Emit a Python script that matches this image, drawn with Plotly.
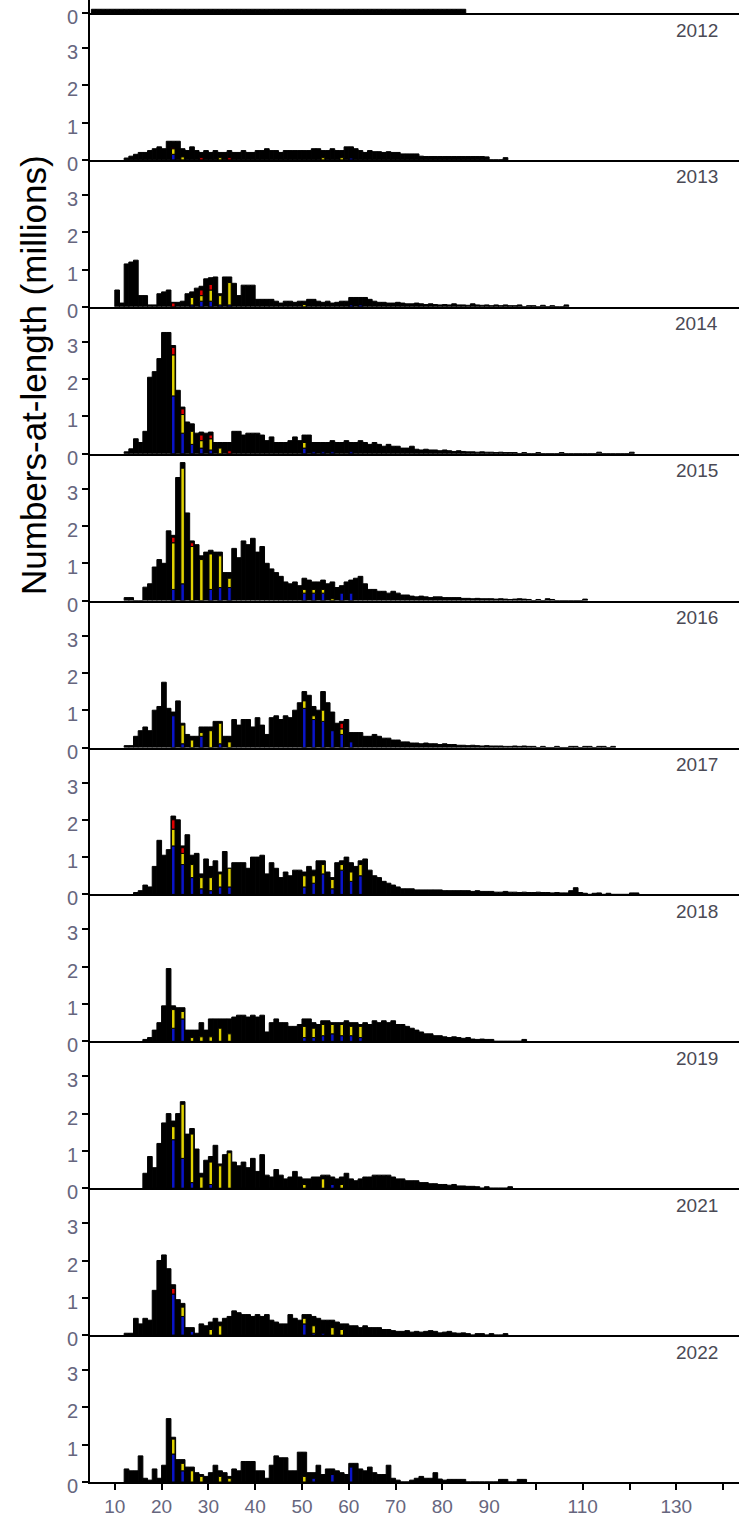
import plotly.graph_objects as go
from plotly.subplots import make_subplots

# numbers-at-length (millions) in 1 cm bins; each list starts at *_start cm
years = ['2012', '2013', '2014', '2015', '2016', '2017', '2018', '2019', '2021', '2022']

# bottom of the panel above 2012 (cut off by the crop)
prev_start = 5
prev_tot = [0.1, 0.1, 0.1, 0.1, 0.1, 0.1, 0.1, 0.1, 0.1, 0.1, 0.1, 0.1, 0.1, 0.1, 0.1, 0.1,
            0.1, 0.1, 0.1, 0.1, 0.1, 0.1, 0.1, 0.1, 0.1, 0.1, 0.1, 0.1, 0.1, 0.1, 0.1, 0.1,
            0.1, 0.1, 0.1, 0.1, 0.1, 0.1, 0.1, 0.1, 0.1, 0.1, 0.1, 0.1, 0.1, 0.1, 0.1, 0.1,
            0.1, 0.1, 0.1, 0.1, 0.1, 0.1, 0.1, 0.1, 0.1, 0.1, 0.1, 0.1, 0.1, 0.1, 0.1, 0.1,
            0.1, 0.1, 0.1, 0.1, 0.1, 0.1, 0.1, 0.1, 0.1, 0.1, 0.1, 0.1, 0.1, 0.1, 0.1, 0.1]

tot_2012_start = 12
tot_2012 = [0.05, 0.1, 0.15, 0.2, 0.2, 0.25, 0.3, 0.35, 0.3, 0.5, 0.5, 0.5, 0.3, 0.25, 0.35, 0.25,
            0.2, 0.25, 0.2, 0.25, 0.2, 0.2, 0.25, 0.2, 0.2, 0.25, 0.2, 0.2, 0.25, 0.25, 0.3, 0.25,
            0.25, 0.2, 0.25, 0.25, 0.25, 0.25, 0.25, 0.25, 0.3, 0.3, 0.25, 0.25, 0.3, 0.25, 0.25,
            0.35, 0.35, 0.3, 0.25, 0.2, 0.25, 0.22, 0.22, 0.2, 0.22, 0.2, 0.2, 0.16, 0.16, 0.16,
            0.16, 0.1, 0.09, 0.09, 0.09, 0.09, 0.09, 0.09, 0.09, 0.09, 0.09, 0.09, 0.09, 0.09,
            0.09, 0.08, 0, 0, 0, 0.06]

tot_2013_start = 10
tot_2013 = [0.45, 0.1, 1.15, 1.2, 1.25, 0.3, 0.3, 0.05, 0.05, 0.35, 0.4, 0.45, 0.12, 0.12, 0.15,
            0.35, 0.4, 0.5, 0.55, 0.75, 0.78, 0.8, 0.35, 0.8, 0.8, 0.63, 0.3, 0.58, 0.58, 0.58,
            0.2, 0.2, 0.2, 0.2, 0.15, 0.1, 0.15, 0.15, 0.12, 0.15, 0.15, 0.2, 0.2, 0.15, 0.12,
            0.15, 0.1, 0.12, 0.15, 0.15, 0.25, 0.25, 0.25, 0.25, 0.2, 0.15, 0.12, 0.12, 0.1, 0.1,
            0.12, 0.1, 0.08, 0.08, 0.1, 0.08, 0.06, 0.08, 0.06, 0.05, 0.06, 0.05, 0.08, 0.05,
            0.05, 0.04, 0.08, 0.05, 0.04, 0.05, 0.03, 0.05, 0.03, 0.05, 0.03, 0.03, 0.05, 0,
            0.03, 0.03, 0, 0.04, 0, 0.03, 0, 0, 0.05]

tot_2014_start = 12
tot_2014 = [0.05, 0.13, 0.4, 0.3, 0.6, 2.05, 2.2, 2.55, 3.25, 3.25, 2.9, 1.7, 1.25, 0.85, 0.8,
            0.55, 0.58, 0.55, 0.58, 0.3, 0.3, 0.3, 0.3, 0.6, 0.6, 0.5, 0.55, 0.55, 0.55, 0.5,
            0.35, 0.45, 0.3, 0.3, 0.3, 0.35, 0.45, 0.35, 0.5, 0.5, 0.3, 0.3, 0.3, 0.3, 0.35,
            0.3, 0.3, 0.35, 0.3, 0.3, 0.35, 0.3, 0.25, 0.3, 0.25, 0.2, 0.25, 0.2, 0.2, 0.15,
            0.15, 0.2, 0.12, 0.1, 0.12, 0.1, 0.1, 0.08, 0.1, 0.08, 0.06, 0.08, 0.06, 0.05, 0.05,
            0.04, 0.05, 0.04, 0.04, 0.03, 0.04, 0.03, 0.03, 0.03, 0, 0.03, 0, 0, 0.03, 0, 0,
            0, 0, 0.03, 0, 0, 0, 0, 0, 0, 0, 0.04, 0, 0, 0, 0, 0, 0, 0.04]

tot_2015_start = 12
tot_2015 = [0.08, 0.08, 0, 0, 0.36, 0.45, 0.9, 1.1, 1.0, 1.87, 1.75, 3.3, 3.7, 2.35, 1.6, 1.5,
            1.2, 1.3, 1.35, 1.3, 1.3, 0.75, 0.75, 1.4, 1.15, 1.6, 1.5, 1.67, 1.3, 1.45, 1.0,
            0.85, 0.75, 0.65, 0.5, 0.45, 0.5, 0.4, 0.6, 0.55, 0.5, 0.5, 0.55, 0.45, 0.5, 0.35,
            0.4, 0.5, 0.55, 0.6, 0.65, 0.45, 0.3, 0.3, 0.25, 0.25, 0.2, 0.25, 0.2, 0.15, 0.15,
            0.12, 0.1, 0.12, 0.1, 0.08, 0.1, 0.1, 0.08, 0.08, 0.08, 0.08, 0.06, 0.06, 0.05,
            0.06, 0.05, 0.05, 0.05, 0.04, 0.05, 0.04, 0.03, 0.04, 0.05, 0.04, 0.03, 0, 0.03,
            0, 0.05, 0.03, 0, 0, 0, 0, 0, 0, 0.04]

tot_2016_start = 12
tot_2016 = [0.05, 0.05, 0.3, 0.45, 0.55, 0.45, 1.0, 1.1, 1.75, 1.05, 0.95, 1.25, 0.65, 0.35, 0.3,
            0.3, 0.55, 0.55, 0.55, 0.7, 0.7, 0.3, 0.3, 0.75, 0.6, 0.75, 0.75, 0.55, 0.8, 0.6,
            0.35, 0.8, 0.85, 0.75, 0.85, 0.8, 1.0, 1.2, 1.5, 1.4, 1.1, 1.0, 1.5, 1.2, 0.95, 0.65,
            0.7, 0.75, 0.4, 0.4, 0.4, 0.3, 0.3, 0.35, 0.3, 0.25, 0.25, 0.2, 0.2, 0.15, 0.15,
            0.12, 0.12, 0.1, 0.12, 0.1, 0.1, 0.08, 0.1, 0.08, 0.08, 0.06, 0.06, 0.05, 0.06,
            0.05, 0.04, 0.05, 0.04, 0.04, 0.04, 0.03, 0.03, 0.04, 0.03, 0.04, 0.03, 0.03, 0,
            0.03, 0, 0, 0.03, 0, 0, 0.03, 0.03, 0, 0.03, 0.03, 0, 0.03, 0.03, 0, 0.03]

tot_2017_start = 14
tot_2017 = [0.05, 0.1, 0.25, 0.2, 0.75, 1.45, 1.05, 1.2, 2.1, 2.0, 1.3, 1.6, 1.05, 1.1, 0.55, 0.95,
            0.75, 0.9, 0.6, 1.15, 0.7, 0.85, 0.85, 0.85, 0.7, 1.0, 1.0, 1.05, 0.55, 0.85, 0.7,
            0.45, 0.6, 0.5, 0.65, 0.65, 0.6, 0.75, 0.65, 0.9, 0.9, 0.6, 0.45, 0.85, 0.9, 1.0,
            0.85, 0.75, 0.9, 0.95, 0.65, 0.5, 0.45, 0.35, 0.3, 0.25, 0.2, 0.15, 0.15, 0.15, 0.12,
            0.12, 0.12, 0.12, 0.12, 0.12, 0.1, 0.1, 0.1, 0.1, 0.1, 0.1, 0.08, 0.1, 0.08, 0.08,
            0.08, 0.06, 0.06, 0.08, 0.06, 0.06, 0.05, 0.06, 0.05, 0.05, 0.06, 0.05, 0.05, 0.04,
            0.05, 0.04, 0.04, 0.1, 0.18, 0.05, 0.03, 0, 0.03, 0.04, 0, 0.03, 0, 0, 0, 0, 0.04,
            0.04]

tot_2018_start = 16
tot_2018 = [0.05, 0.1, 0.3, 0.5, 0.95, 1.95, 0.95, 0.9, 0.9, 0.3, 0.3, 0.3, 0.5, 0.3, 0.6, 0.6,
            0.6, 0.6, 0.6, 0.65, 0.7, 0.7, 0.65, 0.7, 0.65, 0.7, 0.25, 0.5, 0.6, 0.5, 0.5, 0.4,
            0.4, 0.45, 0.6, 0.6, 0.5, 0.45, 0.55, 0.55, 0.5, 0.5, 0.5, 0.55, 0.5, 0.5, 0.45,
            0.5, 0.45, 0.55, 0.5, 0.55, 0.5, 0.55, 0.45, 0.45, 0.4, 0.35, 0.3, 0.25, 0.2, 0.2,
            0.15, 0.15, 0.12, 0.1, 0.12, 0.1, 0.08, 0.1, 0.06, 0.05, 0.06, 0.05, 0.05, 0, 0, 0,
            0, 0, 0, 0.05]

tot_2019_start = 16
tot_2019 = [0.4, 0.85, 0.55, 1.2, 1.75, 2.0, 1.8, 2.0, 2.32, 1.45, 1.6, 1.05, 0.4, 0.75, 0.85,
            1.15, 0.65, 0.9, 1.0, 0.7, 0.6, 0.7, 0.55, 0.8, 0.45, 0.9, 0.35, 0.3, 0.5, 0.35,
            0.25, 0.3, 0.45, 0.3, 0.25, 0.25, 0.3, 0.3, 0.35, 0.35, 0.3, 0.25, 0.3, 0.4, 0.25,
            0.2, 0.25, 0.3, 0.3, 0.35, 0.35, 0.35, 0.35, 0.3, 0.25, 0.25, 0.2, 0.2, 0.2, 0.15,
            0.15, 0.12, 0.12, 0.1, 0.1, 0.08, 0.1, 0.06, 0.06, 0.05, 0.05, 0.04, 0, 0.04, 0, 0,
            0, 0, 0.04]

tot_2021_start = 12
tot_2021 = [0.05, 0.05, 0.45, 0.3, 0.45, 0.4, 1.2, 2.0, 2.15, 1.78, 1.35, 0.95, 0.85, 0.2, 0.2,
            0.05, 0.3, 0.25, 0.35, 0.45, 0.35, 0.45, 0.5, 0.65, 0.6, 0.55, 0.55, 0.5, 0.55, 0.5,
            0.55, 0.4, 0.35, 0.3, 0.3, 0.55, 0.45, 0.4, 0.55, 0.55, 0.5, 0.45, 0.4, 0.4, 0.4,
            0.35, 0.3, 0.3, 0.25, 0.25, 0.2, 0.25, 0.2, 0.2, 0.2, 0.15, 0.15, 0.12, 0.1, 0.1,
            0.12, 0.08, 0.1, 0.08, 0.1, 0.12, 0.1, 0.06, 0.08, 0.1, 0.06, 0.05, 0.06, 0.04, 0,
            0.04, 0.04, 0, 0.04, 0, 0, 0.04]

tot_2022_start = 12
tot_2022 = [0.35, 0.3, 0.3, 0.7, 0.1, 0.05, 0.35, 0.1, 0.45, 1.7, 1.2, 0.6, 0.6, 0.4, 0.4, 0.25,
            0.2, 0.15, 0.25, 0.45, 0.3, 0.25, 0.15, 0.35, 0.3, 0.55, 0.55, 0.55, 0.3, 0.3, 0.1,
            0.45, 0.7, 0.65, 0.65, 0.3, 0.3, 0.8, 0.8, 0.25, 0.25, 0.45, 0.2, 0.35, 0.35, 0.3,
            0.25, 0.2, 0.5, 0.5, 0.35, 0.3, 0.4, 0.25, 0.2, 0.2, 0.45, 0.1, 0.05, 0, 0, 0.05,
            0.1, 0.15, 0.1, 0.1, 0.25, 0.08, 0.05, 0.07, 0.07, 0.07, 0.07, 0, 0, 0, 0, 0, 0, 0,
            0.07, 0.07, 0, 0, 0.07, 0.07]

# aged sub-sample on every second bin: blue / yellow / red segment heights
age_2012_len = [22, 24, 28, 32, 34, 54, 58, 60]
age_2012_blue = [0.15, 0, 0, 0, 0, 0, 0, 0.05]
age_2012_yellow = [0.15, 0.08, 0, 0.06, 0, 0.06, 0.06, 0]
age_2012_red = [0.03, 0, 0.06, 0, 0.06, 0, 0, 0]

age_2013_len = [22, 26, 28, 30, 32, 34, 50, 60, 62]
age_2013_blue = [0, 0.05, 0.15, 0.15, 0.05, 0.05, 0, 0.05, 0.05]
age_2013_yellow = [0, 0.2, 0.15, 0.3, 0.25, 0.6, 0.06, 0, 0]
age_2013_red = [0.1, 0, 0.15, 0.15, 0, 0, 0, 0, 0]

age_2014_len = [22, 24, 26, 28, 30, 32, 34, 50, 52, 54, 56, 60]
age_2014_blue = [1.55, 0.55, 0.25, 0.15, 0.1, 0, 0, 0.15, 0.05, 0.05, 0.05, 0.05]
age_2014_yellow = [1.1, 0.5, 0.35, 0.2, 0.3, 0.15, 0, 0.15, 0, 0, 0, 0]
age_2014_red = [0.2, 0.15, 0, 0.15, 0.1, 0, 0.08, 0, 0, 0, 0, 0]

age_2015_len = [22, 24, 26, 28, 30, 32, 34, 50, 52, 54, 56, 58, 60]
age_2015_blue = [0.3, 0.45, 0, 0, 0.3, 0.35, 0.35, 0.2, 0.2, 0.2, 0, 0.2, 0.2]
age_2015_yellow = [1.25, 3.1, 1.45, 1.1, 0.95, 0.85, 0.25, 0.1, 0.1, 0.1, 0.05, 0, 0]
age_2015_red = [0.15, 0, 0.1, 0, 0, 0, 0, 0, 0, 0, 0, 0, 0]

age_2016_len = [22, 24, 26, 28, 30, 32, 34, 50, 52, 54, 56, 58, 60]
age_2016_blue = [0.85, 0.1, 0, 0.3, 0, 0.1, 0, 1.05, 0.75, 0.7, 0.45, 0.35, 0.15]
age_2016_yellow = [0, 0.5, 0.2, 0.1, 0.45, 0.55, 0.15, 0.2, 0.1, 0.3, 0, 0.15, 0]
age_2016_red = [0, 0, 0, 0, 0, 0, 0, 0, 0, 0, 0, 0.15, 0]

age_2017_len = [22, 24, 26, 28, 30, 32, 34, 50, 52, 54, 56, 58, 60, 62]
age_2017_blue = [1.3, 0.8, 0.45, 0.15, 0.1, 0.2, 0.2, 0.2, 0.3, 0.55, 0.15, 0.65, 0.35, 0.5]
age_2017_yellow = [0.45, 0.3, 0.35, 0.3, 0.35, 0.35, 0.5, 0.3, 0.2, 0.25, 0.25, 0.15, 0.25, 0.3]
age_2017_red = [0.25, 0.15, 0, 0, 0, 0, 0, 0, 0, 0, 0, 0, 0, 0]

age_2018_len = [22, 24, 26, 28, 30, 32, 34, 50, 52, 54, 56, 58, 60, 62]
age_2018_blue = [0.35, 0.6, 0, 0, 0, 0, 0, 0.1, 0.1, 0.15, 0.2, 0.15, 0.15, 0.1]
age_2018_yellow = [0.5, 0.2, 0.1, 0.12, 0.12, 0.35, 0.2, 0.3, 0.25, 0.3, 0.25, 0.3, 0.25, 0.3]
age_2018_red = [0, 0, 0, 0, 0, 0, 0, 0, 0, 0, 0, 0, 0, 0]

age_2019_len = [22, 24, 26, 28, 30, 32, 34, 50, 54, 56, 58]
age_2019_blue = [1.3, 0.8, 0.15, 0, 0.1, 0, 0, 0, 0, 0.1, 0]
age_2019_yellow = [0.35, 1.45, 1.3, 0.3, 0.6, 0.6, 0.95, 0.1, 0.25, 0, 0.1]
age_2019_red = [0, 0, 0, 0, 0, 0, 0, 0, 0, 0, 0]

age_2021_len = [22, 24, 26, 30, 32, 50, 52, 54, 56, 58]
age_2021_blue = [1.1, 0.5, 0.1, 0, 0, 0.3, 0.05, 0.05, 0, 0]
age_2021_yellow = [0, 0.25, 0, 0.15, 0.25, 0.15, 0.2, 0, 0.2, 0.15]
age_2021_red = [0.15, 0, 0, 0, 0, 0, 0, 0, 0, 0]

age_2022_len = [22, 24, 26, 28, 32, 34, 50, 52, 56, 60]
age_2022_blue = [0.75, 0.3, 0, 0, 0, 0, 0, 0.1, 0.2, 0.4]
age_2022_yellow = [0.4, 0.2, 0.3, 0.15, 0.15, 0.1, 0.15, 0, 0, 0]
age_2022_red = [0, 0, 0, 0, 0, 0, 0, 0, 0, 0]

panels = [
    (tot_2012_start, tot_2012, age_2012_len, age_2012_blue, age_2012_yellow, age_2012_red),
    (tot_2013_start, tot_2013, age_2013_len, age_2013_blue, age_2013_yellow, age_2013_red),
    (tot_2014_start, tot_2014, age_2014_len, age_2014_blue, age_2014_yellow, age_2014_red),
    (tot_2015_start, tot_2015, age_2015_len, age_2015_blue, age_2015_yellow, age_2015_red),
    (tot_2016_start, tot_2016, age_2016_len, age_2016_blue, age_2016_yellow, age_2016_red),
    (tot_2017_start, tot_2017, age_2017_len, age_2017_blue, age_2017_yellow, age_2017_red),
    (tot_2018_start, tot_2018, age_2018_len, age_2018_blue, age_2018_yellow, age_2018_red),
    (tot_2019_start, tot_2019, age_2019_len, age_2019_blue, age_2019_yellow, age_2019_red),
    (tot_2021_start, tot_2021, age_2021_len, age_2021_blue, age_2021_yellow, age_2021_red),
    (tot_2022_start, tot_2022, age_2022_len, age_2022_blue, age_2022_yellow, age_2022_red),
]

x_ticks = [10, 20, 30, 40, 50, 60, 70, 80, 90, 100, 110, 120, 130, 140]
x_labels = ['10', '20', '30', '40', '50', '60', '70', '80', '90', '', '110', '', '130', '']

BLUE, YELLOW, RED = '#0a14c8', '#e0d200', '#e00000'
FONT = 'Liberation Sans, Arial, sans-serif'
LABEL_GREY = '#66667e'

W, H = 739, 1517
M_L, M_B = 90, 35
STRIP, PANEL = 13, 146.9
UNIT = 37.3   # px per million

fig = make_subplots(rows=11, cols=1, shared_xaxes=True, vertical_spacing=0,
                    row_heights=[STRIP] + [PANEL] * 10)


def add_bars(row, start, tot):
    fig.add_trace(go.Bar(
        x=[start + i + 0.5 for i in range(len(tot))], y=tot, width=1,
        marker=dict(color='black', line=dict(color='black', width=1)),
        showlegend=False, hoverinfo='skip'), row=row, col=1)


add_bars(1, prev_start, prev_tot)

for row, (start, tot, alen, blue, yel, red) in enumerate(panels, start=2):
    add_bars(row, start, tot)
    xs = [l + 0.5 for l in alen]
    base_y = blue
    base_r = [b + y for b, y in zip(blue, yel)]
    for vals, base, col in [(blue, [0] * len(blue), BLUE), (yel, base_y, YELLOW), (red, base_r, RED)]:
        keep = [i for i, v in enumerate(vals) if v > 0]
        if not keep:
            continue
        fig.add_trace(go.Bar(
            x=[xs[i] for i in keep], y=[vals[i] for i in keep], base=[base[i] for i in keep],
            width=0.75, marker=dict(color=col, line=dict(color='black', width=1)),
            showlegend=False, hoverinfo='skip'), row=row, col=1)

# axes
fig.update_xaxes(range=[4.7, 143.4], showline=True, linecolor='black', linewidth=2,
                 showgrid=False, zeroline=False, ticks='', showticklabels=False)
fig.update_xaxes(ticks='outside', ticklen=6, tickwidth=2, tickcolor='black',
                 tickvals=x_ticks, ticktext=x_labels, showticklabels=True,
                 tickfont=dict(family=FONT, size=19, color=LABEL_GREY), row=11, col=1)

fig.update_yaxes(showline=True, linecolor='black', linewidth=2, showgrid=False, zeroline=False,
                 ticks='outside', ticklen=6, tickwidth=2, tickcolor='black', ticklabelshift=4,
                 tickfont=dict(family=FONT, size=20, color=LABEL_GREY))
fig.update_yaxes(range=[0, STRIP / UNIT], tickvals=[0], row=1, col=1)
for row in range(2, 12):
    fig.update_yaxes(range=[0, PANEL / UNIT], tickvals=[0, 1, 2, 3], row=row, col=1)

# year labels
for row, yr in enumerate(years, start=2):
    fig.add_annotation(text=yr, xref='paper', x=0.971, xanchor='right',
                       yref=f'y{row} domain', y=1 - 17 / PANEL, yanchor='middle',
                       showarrow=False, font=dict(family=FONT, size=19, color='#4a4a55'))

fig.add_annotation(text='Numbers-at-length (millions)', textangle=-90,
                   xref='paper', x=(33 - M_L) / (W - M_L), xanchor='center',
                   yref='paper', y=1 - 375 / (H - M_B), yanchor='middle',
                   showarrow=False, font=dict(family=FONT, size=35, color='black'))

fig.update_layout(width=W, height=H, barmode='overlay',
                  margin=dict(l=M_L, r=0, t=0, b=M_B),
                  paper_bgcolor='white', plot_bgcolor='white')

# page body has a default 8px margin; drop it so the figure sits at the corner
fig.write_html("out.html", config={'displayModeBar': False},
               post_script="document.body.style.margin='0';")
